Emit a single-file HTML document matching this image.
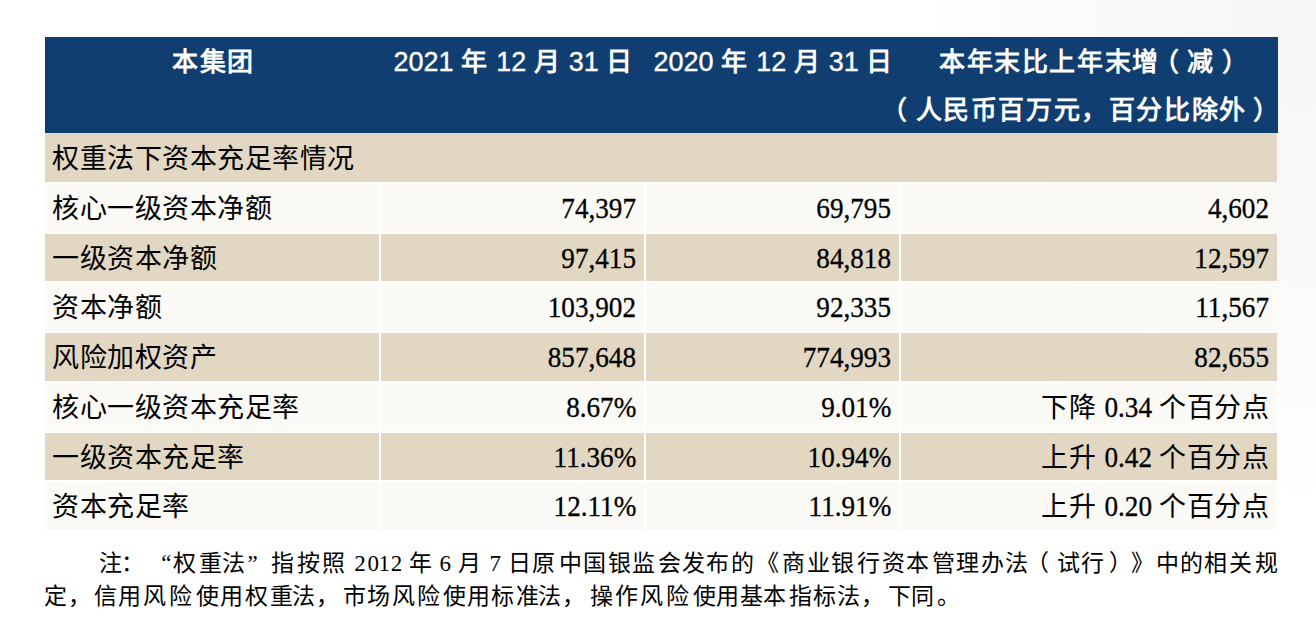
<!DOCTYPE html>
<html lang="zh-CN"><head><meta charset="utf-8"><title>table</title><style>
html,body{margin:0;padding:0}
body{width:1316px;height:636px;position:relative;overflow:hidden;background:#fff;font-family:"Liberation Serif",serif;color:#000}
.r{position:absolute}
.t{position:absolute;white-space:nowrap;font-size:28px;line-height:28px;-webkit-text-stroke:0.3px #000}
.t .c{font-size:27px;letter-spacing:0.5px;-webkit-text-stroke:0}
.h{position:absolute;white-space:nowrap;font-family:"Liberation Sans",sans-serif;color:#fff;font-size:27px;line-height:28px;-webkit-text-stroke:0.35px #fff}
.h .c{font-size:26px;letter-spacing:1.6px;font-weight:bold;-webkit-text-stroke:0}
.pl{position:relative;left:-7px}
.t .m{display:inline-block;transform:scale(0.97,1.07);transform-origin:100% 23px}
.pr{position:relative;left:6.5px}
.q{position:absolute;white-space:pre;font-size:23px;line-height:23px}
</style></head><body>
<div class="r" style="left:800px;top:0;width:516px;height:636px;background:radial-gradient(ellipse 400px 520px at 100% 0%,#f5f7f7 0%,#f8f9f9 45%,rgba(255,255,255,0) 100%)"></div>
<div class="r" style="left:45px;top:37px;width:1233px;height:96px;background:#113e70"></div>
<div class="r" style="left:45px;top:133px;width:1232px;height:49px;background:#e2d7c3"></div>
<div class="r" style="left:45px;top:184px;width:334px;height:48px;background:#fbfaf6"></div>
<div class="r" style="left:381px;top:184px;width:263px;height:48px;background:#fbfaf6"></div>
<div class="r" style="left:646px;top:184px;width:253px;height:48px;background:#fbfaf6"></div>
<div class="r" style="left:901px;top:184px;width:376px;height:48px;background:#fbfaf6"></div>
<div class="r" style="left:45px;top:234px;width:334px;height:47px;background:#e2d7c3"></div>
<div class="r" style="left:381px;top:234px;width:263px;height:47px;background:#e2d7c3"></div>
<div class="r" style="left:646px;top:234px;width:253px;height:47px;background:#e2d7c3"></div>
<div class="r" style="left:901px;top:234px;width:376px;height:47px;background:#e2d7c3"></div>
<div class="r" style="left:45px;top:283px;width:334px;height:48px;background:#fbfaf6"></div>
<div class="r" style="left:381px;top:283px;width:263px;height:48px;background:#fbfaf6"></div>
<div class="r" style="left:646px;top:283px;width:253px;height:48px;background:#fbfaf6"></div>
<div class="r" style="left:901px;top:283px;width:376px;height:48px;background:#fbfaf6"></div>
<div class="r" style="left:45px;top:333px;width:334px;height:48px;background:#e2d7c3"></div>
<div class="r" style="left:381px;top:333px;width:263px;height:48px;background:#e2d7c3"></div>
<div class="r" style="left:646px;top:333px;width:253px;height:48px;background:#e2d7c3"></div>
<div class="r" style="left:901px;top:333px;width:376px;height:48px;background:#e2d7c3"></div>
<div class="r" style="left:45px;top:383px;width:334px;height:48px;background:#fbfaf6"></div>
<div class="r" style="left:381px;top:383px;width:263px;height:48px;background:#fbfaf6"></div>
<div class="r" style="left:646px;top:383px;width:253px;height:48px;background:#fbfaf6"></div>
<div class="r" style="left:901px;top:383px;width:376px;height:48px;background:#fbfaf6"></div>
<div class="r" style="left:45px;top:433px;width:334px;height:47px;background:#e2d7c3"></div>
<div class="r" style="left:381px;top:433px;width:263px;height:47px;background:#e2d7c3"></div>
<div class="r" style="left:646px;top:433px;width:253px;height:47px;background:#e2d7c3"></div>
<div class="r" style="left:901px;top:433px;width:376px;height:47px;background:#e2d7c3"></div>
<div class="r" style="left:45px;top:482px;width:334px;height:48px;background:#fbfaf6"></div>
<div class="r" style="left:381px;top:482px;width:263px;height:48px;background:#fbfaf6"></div>
<div class="r" style="left:646px;top:482px;width:253px;height:48px;background:#fbfaf6"></div>
<div class="r" style="left:901px;top:482px;width:376px;height:48px;background:#fbfaf6"></div>
<div class="h" style="left:172px;top:48px"><span class="c">本集团</span></div>
<div class="h" style="left:393.5px;top:48px">2021 <span class="c">年</span> 12 <span class="c">月</span> 31 <span class="c">日</span></div>
<div class="h" style="left:653.5px;top:48px">2020 <span class="c">年</span> 12 <span class="c">月</span> 31 <span class="c">日</span></div>
<div class="h" style="left:939px;top:48px"><span class="c">本年末比上年末增<span class="pl">（</span>减<span class="pr">）</span></span></div>
<div class="h" style="left:888px;top:96px"><span class="c"><span class="pl">（</span>人民币百万元，百分比除外<span class="pr">）</span></span></div>
<div class="t" style="left:52px;top:145px"><span class="c">权重法下资本充足率情况</span></div>
<div class="t" style="left:52px;top:195px"><span class="c">核心一级资本净额</span></div>
<div class="t" style="right:680px;top:195px"><span class="m">74,397</span></div>
<div class="t" style="right:425px;top:195px"><span class="m">69,795</span></div>
<div class="t" style="right:47px;top:195px"><span class="m">4,602</span></div>
<div class="t" style="left:52px;top:245px"><span class="c">一级资本净额</span></div>
<div class="t" style="right:680px;top:245px"><span class="m">97,415</span></div>
<div class="t" style="right:425px;top:245px"><span class="m">84,818</span></div>
<div class="t" style="right:47px;top:245px"><span class="m">12,597</span></div>
<div class="t" style="left:52px;top:294px"><span class="c">资本净额</span></div>
<div class="t" style="right:680px;top:294px"><span class="m">103,902</span></div>
<div class="t" style="right:425px;top:294px"><span class="m">92,335</span></div>
<div class="t" style="right:47px;top:294px"><span class="m">11,567</span></div>
<div class="t" style="left:52px;top:344px"><span class="c">风险加权资产</span></div>
<div class="t" style="right:680px;top:344px"><span class="m">857,648</span></div>
<div class="t" style="right:425px;top:344px"><span class="m">774,993</span></div>
<div class="t" style="right:47px;top:344px"><span class="m">82,655</span></div>
<div class="t" style="left:52px;top:394px"><span class="c">核心一级资本充足率</span></div>
<div class="t" style="right:680px;top:394px"><span class="m">8.67%</span></div>
<div class="t" style="right:425px;top:394px"><span class="m">9.01%</span></div>
<div class="t" style="right:47px;top:394px"><span class="c">下降</span> <span class="m">0.34</span> <span class="c">个百分点</span></div>
<div class="t" style="left:52px;top:444px"><span class="c">一级资本充足率</span></div>
<div class="t" style="right:680px;top:444px"><span class="m">11.36%</span></div>
<div class="t" style="right:425px;top:444px"><span class="m">10.94%</span></div>
<div class="t" style="right:47px;top:444px"><span class="c">上升</span> <span class="m">0.42</span> <span class="c">个百分点</span></div>
<div class="t" style="left:52px;top:493px"><span class="c">资本充足率</span></div>
<div class="t" style="right:680px;top:493px"><span class="m">12.11%</span></div>
<div class="t" style="right:425px;top:493px"><span class="m">11.91%</span></div>
<div class="t" style="right:47px;top:493px"><span class="c">上升</span> <span class="m">0.20</span> <span class="c">个百分点</span></div>
<span class="q" style="left:99.1px;top:552px">注</span>
<span class="q" style="left:120.8px;top:552px">：</span>
<span class="q" style="left:161.3px;top:552px">“</span>
<span class="q" style="left:173.1px;top:552px">权</span>
<span class="q" style="left:198.9px;top:552px">重</span>
<span class="q" style="left:221.6px;top:552px">法</span>
<span class="q" style="left:247.6px;top:552px">”</span>
<span class="q" style="left:271.4px;top:552px">指</span>
<span class="q" style="left:296.6px;top:552px">按</span>
<span class="q" style="left:321.7px;top:552px">照</span>
<span class="q" style="left:354.3px;top:552px">2</span>
<span class="q" style="left:367.4px;top:552px">0</span>
<span class="q" style="left:378.5px;top:552px">1</span>
<span class="q" style="left:390.8px;top:552px">2</span>
<span class="q" style="left:409.1px;top:552px">年</span>
<span class="q" style="left:439.6px;top:552px">6</span>
<span class="q" style="left:457.6px;top:552px">月</span>
<span class="q" style="left:489.5px;top:552px">7</span>
<span class="q" style="left:507.9px;top:552px">日</span>
<span class="q" style="left:531.8px;top:552px">原</span>
<span class="q" style="left:558.5px;top:552px">中</span>
<span class="q" style="left:583.1px;top:552px">国</span>
<span class="q" style="left:607.8px;top:552px">银</span>
<span class="q" style="left:632.1px;top:552px">监</span>
<span class="q" style="left:657.9px;top:552px">会</span>
<span class="q" style="left:682.3px;top:552px">发</span>
<span class="q" style="left:705.9px;top:552px">布</span>
<span class="q" style="left:731.4px;top:552px">的</span>
<span class="q" style="left:756.2px;top:552px">《</span>
<span class="q" style="left:782.2px;top:552px">商</span>
<span class="q" style="left:807.0px;top:552px">业</span>
<span class="q" style="left:830.9px;top:552px">银</span>
<span class="q" style="left:856.8px;top:552px">行</span>
<span class="q" style="left:882.2px;top:552px">资</span>
<span class="q" style="left:906.1px;top:552px">本</span>
<span class="q" style="left:932.3px;top:552px">管</span>
<span class="q" style="left:956.3px;top:552px">理</span>
<span class="q" style="left:981.4px;top:552px">办</span>
<span class="q" style="left:1005.1px;top:552px">法</span>
<span class="q" style="left:1026.2px;top:552px">（</span>
<span class="q" style="left:1056.5px;top:552px">试</span>
<span class="q" style="left:1081.2px;top:552px">行</span>
<span class="q" style="left:1109.1px;top:552px">）</span>
<span class="q" style="left:1130.9px;top:552px">》</span>
<span class="q" style="left:1156.2px;top:552px">中</span>
<span class="q" style="left:1179.5px;top:552px">的</span>
<span class="q" style="left:1203.8px;top:552px">相</span>
<span class="q" style="left:1228.5px;top:552px">关</span>
<span class="q" style="left:1254.6px;top:552px">规</span>
<span class="q" style="left:44.2px;top:585px">定</span>
<span class="q" style="left:67.7px;top:585px">，</span>
<span class="q" style="left:93.5px;top:585px">信</span>
<span class="q" style="left:118.3px;top:585px">用</span>
<span class="q" style="left:143.4px;top:585px">风</span>
<span class="q" style="left:168.6px;top:585px">险</span>
<span class="q" style="left:195.7px;top:585px">使</span>
<span class="q" style="left:220.4px;top:585px">用</span>
<span class="q" style="left:244.6px;top:585px">权</span>
<span class="q" style="left:269.5px;top:585px">重</span>
<span class="q" style="left:291.8px;top:585px">法</span>
<span class="q" style="left:315.9px;top:585px">，</span>
<span class="q" style="left:342.6px;top:585px">市</span>
<span class="q" style="left:367.3px;top:585px">场</span>
<span class="q" style="left:391.5px;top:585px">风</span>
<span class="q" style="left:416.7px;top:585px">险</span>
<span class="q" style="left:442.8px;top:585px">使</span>
<span class="q" style="left:466.5px;top:585px">用</span>
<span class="q" style="left:490.8px;top:585px">标</span>
<span class="q" style="left:515.7px;top:585px">准</span>
<span class="q" style="left:537.9px;top:585px">法</span>
<span class="q" style="left:562.0px;top:585px">，</span>
<span class="q" style="left:590.2px;top:585px">操</span>
<span class="q" style="left:614.9px;top:585px">作</span>
<span class="q" style="left:640.1px;top:585px">风</span>
<span class="q" style="left:665.7px;top:585px">险</span>
<span class="q" style="left:692.8px;top:585px">使</span>
<span class="q" style="left:715.6px;top:585px">用</span>
<span class="q" style="left:740.3px;top:585px">基</span>
<span class="q" style="left:762.8px;top:585px">本</span>
<span class="q" style="left:788.9px;top:585px">指</span>
<span class="q" style="left:813.1px;top:585px">标</span>
<span class="q" style="left:837.3px;top:585px">法</span>
<span class="q" style="left:860.9px;top:585px">，</span>
<span class="q" style="left:888.1px;top:585px">下</span>
<span class="q" style="left:911.0px;top:585px">同</span>
<span class="q" style="left:937.4px;top:585px">。</span>
</body></html>
